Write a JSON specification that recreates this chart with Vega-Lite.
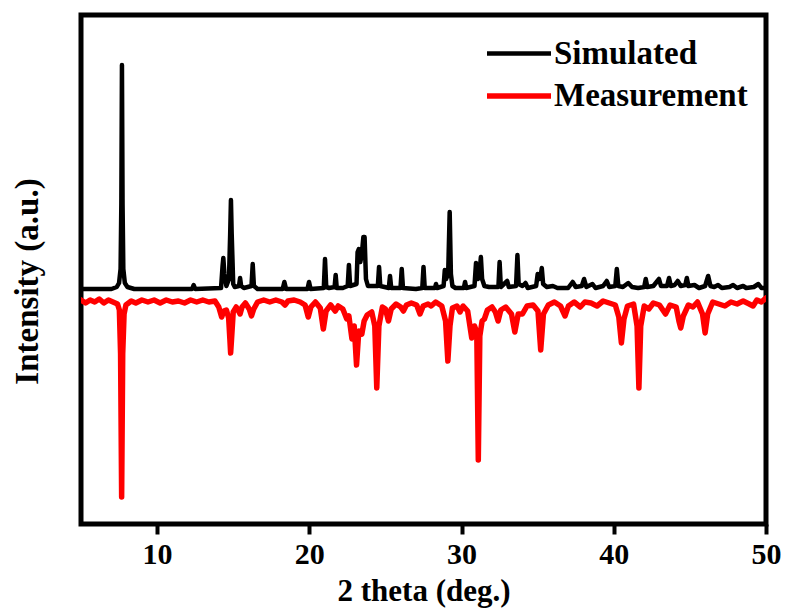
{
  "$schema": "https://vega.github.io/schema/vega-lite/v6.json",
  "width": 685,
  "height": 509,
  "autosize": {"type": "none"},
  "padding": {"left": 81, "top": 15, "right": 21, "bottom": 92},
  "background": "white",
  "config": {
    "view": {"stroke": "black", "strokeWidth": 5},
    "font": "Liberation Serif"
  },
  "data": {
    "values": [
      {"s":"Simulated","x":5.0,"y":235},{"s":"Simulated","x":6.0,"y":235},{"s":"Simulated","x":7.0,"y":235},{"s":"Simulated","x":7.35,"y":237},{"s":"Simulated","x":7.5,"y":241},{"s":"Simulated","x":7.6,"y":255},{"s":"Simulated","x":7.65,"y":320},{"s":"Simulated","x":7.69,"y":459},{"s":"Simulated","x":7.73,"y":320},{"s":"Simulated","x":7.78,"y":255},{"s":"Simulated","x":7.88,"y":241},{"s":"Simulated","x":8.05,"y":237},{"s":"Simulated","x":8.5,"y":235},{"s":"Simulated","x":10.0,"y":235},{"s":"Simulated","x":12.3,"y":235},{"s":"Simulated","x":12.4,"y":239},{"s":"Simulated","x":12.5,"y":235},
      {"s":"Simulated","x":14.2,"y":236},{"s":"Simulated","x":14.3,"y":258},{"s":"Simulated","x":14.35,"y":266},{"s":"Simulated","x":14.42,"y":250},{"s":"Simulated","x":14.55,"y":238},{"s":"Simulated","x":14.72,"y":245},{"s":"Simulated","x":14.8,"y":290},{"s":"Simulated","x":14.85,"y":324},{"s":"Simulated","x":14.9,"y":290},{"s":"Simulated","x":15.0,"y":240},{"s":"Simulated","x":15.1,"y":237},{"s":"Simulated","x":15.38,"y":238},{"s":"Simulated","x":15.45,"y":246},{"s":"Simulated","x":15.52,"y":238},{"s":"Simulated","x":15.7,"y":236},{"s":"Simulated","x":16.2,"y":238},{"s":"Simulated","x":16.28,"y":260},{"s":"Simulated","x":16.36,"y":238},{"s":"Simulated","x":16.6,"y":235},
      {"s":"Simulated","x":18.25,"y":235},{"s":"Simulated","x":18.36,"y":242},{"s":"Simulated","x":18.47,"y":235},{"s":"Simulated","x":19.88,"y":235},{"s":"Simulated","x":19.98,"y":242},{"s":"Simulated","x":20.08,"y":235},{"s":"Simulated","x":20.95,"y":236},{"s":"Simulated","x":21.03,"y":265},{"s":"Simulated","x":21.11,"y":237},{"s":"Simulated","x":21.3,"y":236},{"s":"Simulated","x":21.66,"y":237},{"s":"Simulated","x":21.73,"y":249},{"s":"Simulated","x":21.8,"y":236},{"s":"Simulated","x":22.2,"y":236},{"s":"Simulated","x":22.52,"y":238},{"s":"Simulated","x":22.6,"y":259},{"s":"Simulated","x":22.68,"y":238},{"s":"Simulated","x":23.1,"y":240},{"s":"Simulated","x":23.17,"y":272},{"s":"Simulated","x":23.25,"y":275},{"s":"Simulated","x":23.35,"y":262},{"s":"Simulated","x":23.45,"y":270},{"s":"Simulated","x":23.55,"y":287},{"s":"Simulated","x":23.63,"y":287},{"s":"Simulated","x":23.72,"y":245},{"s":"Simulated","x":23.85,"y":238},
      {"s":"Simulated","x":24.5,"y":238},{"s":"Simulated","x":24.58,"y":257},{"s":"Simulated","x":24.66,"y":238},{"s":"Simulated","x":25.22,"y":236},{"s":"Simulated","x":25.3,"y":248},{"s":"Simulated","x":25.38,"y":236},{"s":"Simulated","x":25.99,"y":236},{"s":"Simulated","x":26.07,"y":255},{"s":"Simulated","x":26.15,"y":236},{"s":"Simulated","x":27.0,"y":235},{"s":"Simulated","x":27.42,"y":236},{"s":"Simulated","x":27.5,"y":257},{"s":"Simulated","x":27.58,"y":236},{"s":"Simulated","x":28.25,"y":236},{"s":"Simulated","x":28.32,"y":240},{"s":"Simulated","x":28.4,"y":236},{"s":"Simulated","x":28.82,"y":238},{"s":"Simulated","x":28.9,"y":254},{"s":"Simulated","x":28.98,"y":245},{"s":"Simulated","x":29.12,"y":250},{"s":"Simulated","x":29.22,"y":312},{"s":"Simulated","x":29.3,"y":250},{"s":"Simulated","x":29.4,"y":238},{"s":"Simulated","x":29.6,"y":236},
      {"s":"Simulated","x":30.15,"y":236},{"s":"Simulated","x":30.23,"y":242},{"s":"Simulated","x":30.31,"y":236},{"s":"Simulated","x":30.85,"y":238},{"s":"Simulated","x":30.95,"y":261},{"s":"Simulated","x":31.05,"y":245},{"s":"Simulated","x":31.15,"y":246},{"s":"Simulated","x":31.27,"y":267},{"s":"Simulated","x":31.35,"y":245},{"s":"Simulated","x":31.5,"y":238},{"s":"Simulated","x":31.8,"y":237},{"s":"Simulated","x":32.42,"y":237},{"s":"Simulated","x":32.5,"y":262},{"s":"Simulated","x":32.58,"y":237},{"s":"Simulated","x":33.0,"y":243},{"s":"Simulated","x":33.1,"y":237},{"s":"Simulated","x":33.58,"y":238},{"s":"Simulated","x":33.67,"y":269},{"s":"Simulated","x":33.75,"y":240},{"s":"Simulated","x":34.0,"y":238},{"s":"Simulated","x":34.2,"y":241},{"s":"Simulated","x":34.35,"y":236},{"s":"Simulated","x":34.9,"y":238},{"s":"Simulated","x":35.0,"y":250},{"s":"Simulated","x":35.1,"y":245},{"s":"Simulated","x":35.18,"y":246},{"s":"Simulated","x":35.27,"y":256},{"s":"Simulated","x":35.36,"y":240},{"s":"Simulated","x":35.6,"y":237},
      {"s":"Simulated","x":36.0,"y":238},{"s":"Simulated","x":36.3,"y":236},{"s":"Simulated","x":37.0,"y":236},{"s":"Simulated","x":37.3,"y":242},{"s":"Simulated","x":37.5,"y":237},{"s":"Simulated","x":37.9,"y":238},{"s":"Simulated","x":38.05,"y":245},{"s":"Simulated","x":38.2,"y":237},{"s":"Simulated","x":38.6,"y":240},{"s":"Simulated","x":38.8,"y":236},{"s":"Simulated","x":39.3,"y":238},{"s":"Simulated","x":39.54,"y":243},{"s":"Simulated","x":39.7,"y":237},{"s":"Simulated","x":40.1,"y":238},{"s":"Simulated","x":40.2,"y":255},{"s":"Simulated","x":40.3,"y":238},{"s":"Simulated","x":40.6,"y":237},{"s":"Simulated","x":40.95,"y":241},{"s":"Simulated","x":41.2,"y":237},{"s":"Simulated","x":41.6,"y":236},{"s":"Simulated","x":42.0,"y":237},{"s":"Simulated","x":42.1,"y":245},{"s":"Simulated","x":42.2,"y":237},{"s":"Simulated","x":42.6,"y":238},{"s":"Simulated","x":42.97,"y":245},{"s":"Simulated","x":43.1,"y":238},{"s":"Simulated","x":43.5,"y":238},{"s":"Simulated","x":43.63,"y":246},{"s":"Simulated","x":43.75,"y":238},{"s":"Simulated","x":44.0,"y":239},{"s":"Simulated","x":44.2,"y":243},{"s":"Simulated","x":44.4,"y":238},{"s":"Simulated","x":44.7,"y":239},{"s":"Simulated","x":44.8,"y":246},{"s":"Simulated","x":44.9,"y":238},{"s":"Simulated","x":45.3,"y":239},{"s":"Simulated","x":45.6,"y":236},{"s":"Simulated","x":46.0,"y":238},{"s":"Simulated","x":46.2,"y":248},{"s":"Simulated","x":46.35,"y":238},{"s":"Simulated","x":46.6,"y":237},{"s":"Simulated","x":46.85,"y":239},{"s":"Simulated","x":47.1,"y":236},{"s":"Simulated","x":47.6,"y":237},{"s":"Simulated","x":47.84,"y":239},{"s":"Simulated","x":48.1,"y":236},{"s":"Simulated","x":48.3,"y":237},{"s":"Simulated","x":48.5,"y":238},{"s":"Simulated","x":48.7,"y":236},{"s":"Simulated","x":49.2,"y":237},{"s":"Simulated","x":49.5,"y":240},{"s":"Simulated","x":49.7,"y":236},{"s":"Simulated","x":50.0,"y":236},
      {"s":"Measurement","x":5.0,"y":224},{"s":"Measurement","x":5.3,"y":221},{"s":"Measurement","x":5.6,"y":224},{"s":"Measurement","x":5.9,"y":222},{"s":"Measurement","x":6.2,"y":225},{"s":"Measurement","x":6.5,"y":221},{"s":"Measurement","x":6.8,"y":224},{"s":"Measurement","x":7.1,"y":222},{"s":"Measurement","x":7.4,"y":220},{"s":"Measurement","x":7.52,"y":214},{"s":"Measurement","x":7.6,"y":170},{"s":"Measurement","x":7.67,"y":27},{"s":"Measurement","x":7.74,"y":170},{"s":"Measurement","x":7.83,"y":210},{"s":"Measurement","x":7.95,"y":219},{"s":"Measurement","x":8.3,"y":223},{"s":"Measurement","x":8.6,"y":221},{"s":"Measurement","x":9.0,"y":224},{"s":"Measurement","x":9.4,"y":222},{"s":"Measurement","x":9.8,"y":224},{"s":"Measurement","x":10.2,"y":221},{"s":"Measurement","x":10.6,"y":224},{"s":"Measurement","x":11.0,"y":222},{"s":"Measurement","x":11.4,"y":223},{"s":"Measurement","x":11.8,"y":221},{"s":"Measurement","x":12.2,"y":224},{"s":"Measurement","x":12.6,"y":222},{"s":"Measurement","x":13.0,"y":224},{"s":"Measurement","x":13.4,"y":222},{"s":"Measurement","x":13.8,"y":223},
      {"s":"Measurement","x":14.05,"y":217},{"s":"Measurement","x":14.24,"y":207},{"s":"Measurement","x":14.38,"y":213},{"s":"Measurement","x":14.55,"y":214},{"s":"Measurement","x":14.7,"y":206},{"s":"Measurement","x":14.78,"y":185},{"s":"Measurement","x":14.83,"y":171},{"s":"Measurement","x":14.89,"y":185},{"s":"Measurement","x":15.0,"y":212},{"s":"Measurement","x":15.2,"y":217},{"s":"Measurement","x":15.35,"y":213},{"s":"Measurement","x":15.45,"y":210},{"s":"Measurement","x":15.58,"y":217},{"s":"Measurement","x":15.8,"y":221},{"s":"Measurement","x":16.05,"y":215},{"s":"Measurement","x":16.2,"y":208},{"s":"Measurement","x":16.35,"y":215},{"s":"Measurement","x":16.6,"y":222},{"s":"Measurement","x":17.0,"y":224},{"s":"Measurement","x":17.4,"y":222},{"s":"Measurement","x":17.8,"y":224},{"s":"Measurement","x":18.2,"y":222},{"s":"Measurement","x":18.4,"y":219},{"s":"Measurement","x":18.6,"y":223},{"s":"Measurement","x":19.0,"y":224},{"s":"Measurement","x":19.4,"y":222},{"s":"Measurement","x":19.72,"y":219},{"s":"Measurement","x":19.93,"y":207},{"s":"Measurement","x":20.1,"y":217},{"s":"Measurement","x":20.4,"y":222},{"s":"Measurement","x":20.72,"y":216},{"s":"Measurement","x":20.92,"y":195},{"s":"Measurement","x":21.1,"y":213},{"s":"Measurement","x":21.4,"y":219},{"s":"Measurement","x":21.7,"y":213},{"s":"Measurement","x":21.9,"y":218},{"s":"Measurement","x":22.2,"y":215},{"s":"Measurement","x":22.46,"y":205},{"s":"Measurement","x":22.6,"y":208},{"s":"Measurement","x":22.8,"y":185},{"s":"Measurement","x":22.95,"y":198},{"s":"Measurement","x":23.1,"y":159},{"s":"Measurement","x":23.25,"y":193},{"s":"Measurement","x":23.45,"y":190},{"s":"Measurement","x":23.6,"y":203},{"s":"Measurement","x":23.8,"y":209},{"s":"Measurement","x":24.1,"y":212},{"s":"Measurement","x":24.3,"y":198},{"s":"Measurement","x":24.43,"y":136},{"s":"Measurement","x":24.57,"y":198},{"s":"Measurement","x":24.8,"y":217},
      {"s":"Measurement","x":25.0,"y":215},{"s":"Measurement","x":25.2,"y":203},{"s":"Measurement","x":25.38,"y":215},{"s":"Measurement","x":25.7,"y":220},{"s":"Measurement","x":26.0,"y":217},{"s":"Measurement","x":26.18,"y":213},{"s":"Measurement","x":26.38,"y":219},{"s":"Measurement","x":26.7,"y":221},{"s":"Measurement","x":27.05,"y":219},{"s":"Measurement","x":27.27,"y":210},{"s":"Measurement","x":27.48,"y":218},{"s":"Measurement","x":27.8,"y":220},{"s":"Measurement","x":28.0,"y":218},{"s":"Measurement","x":28.3,"y":222},{"s":"Measurement","x":28.7,"y":218},{"s":"Measurement","x":28.95,"y":203},{"s":"Measurement","x":29.1,"y":163},{"s":"Measurement","x":29.24,"y":198},{"s":"Measurement","x":29.4,"y":216},{"s":"Measurement","x":29.7,"y":218},{"s":"Measurement","x":29.9,"y":212},{"s":"Measurement","x":30.1,"y":218},{"s":"Measurement","x":30.4,"y":213},{"s":"Measurement","x":30.67,"y":186},{"s":"Measurement","x":30.85,"y":198},{"s":"Measurement","x":31.0,"y":192},{"s":"Measurement","x":31.1,"y":64},{"s":"Measurement","x":31.2,"y":188},{"s":"Measurement","x":31.35,"y":203},{"s":"Measurement","x":31.5,"y":205},{"s":"Measurement","x":31.7,"y":214},{"s":"Measurement","x":32.0,"y":217},{"s":"Measurement","x":32.22,"y":212},{"s":"Measurement","x":32.4,"y":203},{"s":"Measurement","x":32.58,"y":214},{"s":"Measurement","x":32.9,"y":217},{"s":"Measurement","x":33.28,"y":210},{"s":"Measurement","x":33.5,"y":192},{"s":"Measurement","x":33.72,"y":210},{"s":"Measurement","x":34.0,"y":210},{"s":"Measurement","x":34.3,"y":218},{"s":"Measurement","x":34.7,"y":219},{"s":"Measurement","x":35.02,"y":213},{"s":"Measurement","x":35.2,"y":174},{"s":"Measurement","x":35.38,"y":210},{"s":"Measurement","x":35.7,"y":219},
      {"s":"Measurement","x":36.1,"y":222},{"s":"Measurement","x":36.5,"y":218},{"s":"Measurement","x":36.8,"y":208},{"s":"Measurement","x":37.02,"y":218},{"s":"Measurement","x":37.4,"y":222},{"s":"Measurement","x":37.8,"y":217},{"s":"Measurement","x":38.1,"y":222},{"s":"Measurement","x":38.5,"y":221},{"s":"Measurement","x":38.9,"y":218},{"s":"Measurement","x":39.3,"y":223},{"s":"Measurement","x":39.7,"y":221},{"s":"Measurement","x":40.1,"y":219},{"s":"Measurement","x":40.33,"y":207},{"s":"Measurement","x":40.5,"y":181},{"s":"Measurement","x":40.67,"y":205},{"s":"Measurement","x":40.9,"y":218},{"s":"Measurement","x":41.3,"y":220},{"s":"Measurement","x":41.53,"y":198},{"s":"Measurement","x":41.65,"y":136},{"s":"Measurement","x":41.77,"y":198},{"s":"Measurement","x":42.0,"y":218},{"s":"Measurement","x":42.3,"y":215},{"s":"Measurement","x":42.6,"y":221},{"s":"Measurement","x":43.0,"y":219},{"s":"Measurement","x":43.4,"y":210},{"s":"Measurement","x":43.7,"y":219},{"s":"Measurement","x":44.1,"y":217},{"s":"Measurement","x":44.28,"y":203},{"s":"Measurement","x":44.4,"y":196},{"s":"Measurement","x":44.57,"y":208},{"s":"Measurement","x":44.9,"y":219},{"s":"Measurement","x":45.2,"y":217},{"s":"Measurement","x":45.5,"y":222},{"s":"Measurement","x":45.83,"y":210},{"s":"Measurement","x":46.0,"y":191},{"s":"Measurement","x":46.17,"y":210},{"s":"Measurement","x":46.5,"y":222},{"s":"Measurement","x":46.9,"y":220},{"s":"Measurement","x":47.3,"y":218},{"s":"Measurement","x":47.7,"y":222},{"s":"Measurement","x":48.1,"y":220},{"s":"Measurement","x":48.5,"y":223},{"s":"Measurement","x":48.9,"y":220},{"s":"Measurement","x":49.15,"y":218},{"s":"Measurement","x":49.4,"y":224},{"s":"Measurement","x":49.7,"y":222},{"s":"Measurement","x":50.0,"y":226}
    ]
  },
  "mark": {"type": "line", "strokeJoin": "round", "strokeCap": "round", "clip": true},
  "encoding": {
    "x": {
      "field": "x", "type": "quantitative",
      "scale": {"domain": [5, 50], "nice": false, "zero": false},
      "axis": {
        "title": "2 theta (deg.)", "values": [10, 20, 30, 40, 50],
        "domain": false, "grid": false,
        "tickSize": 10, "tickWidth": 4, "tickColor": "black",
        "labelFont": "Liberation Serif", "labelFontWeight": "bold", "labelFontSize": 30, "labelColor": "black",
        "labelPadding": 5, "labelFlush": false, "labelOverlap": false,
        "titleFont": "Liberation Serif", "titleFontWeight": "bold", "titleFontSize": 31, "titleColor": "black",
        "titleBaseline": "alphabetic", "titleY": 76
      }
    },
    "y": {
      "field": "y", "type": "quantitative",
      "scale": {"domain": [0, 509], "nice": false, "zero": false},
      "axis": {
        "title": "Intensity (a.u.)", "labels": false, "ticks": false, "domain": false, "grid": false,
        "titleFont": "Liberation Serif", "titleFontWeight": "bold", "titleFontSize": 33, "titleColor": "black",
        "titleAngle": -90, "titleBaseline": "middle", "titleAlign": "center", "titleX": -54, "titleY": 266
      }
    },
    "color": {
      "field": "s", "type": "nominal",
      "scale": {"domain": ["Simulated", "Measurement"], "range": ["#000000", "#ff0000"]},
      "legend": {
        "title": null, "orient": "none", "legendX": 403, "legendY": 20,
        "symbolType": "M-2,0H2", "symbolSize": 1024, "symbolStrokeWidth": 5, "symbolFillColor": "transparent",
        "symbolOffset": 16,
        "labelFont": "Liberation Serif", "labelFontWeight": "bold", "labelFontSize": 33, "labelColor": "black",
        "labelOffset": 16, "labelLimit": 0, "rowPadding": 6, "padding": 0
      }
    },
    "strokeWidth": {
      "field": "s", "type": "nominal",
      "scale": {"domain": ["Simulated", "Measurement"], "range": [4.5, 5.5]},
      "legend": null
    }
  }
}
